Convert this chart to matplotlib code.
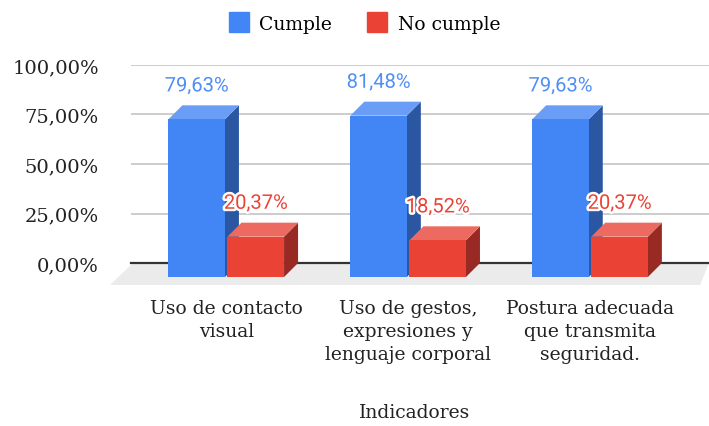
import matplotlib.pyplot as plt
from matplotlib.patches import Polygon, Rectangle
from matplotlib.lines import Line2D
import matplotlib.patheffects as pe

# datos del grafico
categorias = ["Uso de contacto\nvisual",
              "Uso de gestos,\nexpresiones y\nlenguaje corporal",
              "Postura adecuada\nque transmita\nseguridad."]
cumple = [79.63, 81.48, 79.63]
no_cumple = [20.37, 18.52, 20.37]
series = ["Cumple", "No cumple"]
yticks = [0, 25, 50, 75, 100]

# colores: frente, tapa, lateral
colores = {
    "Cumple": ("#4285f4", "#6a9ef6", "#2b56a2"),
    "No cumple": ("#ea4335", "#ec6a5f", "#992a23"),
}
color_texto = {"Cumple": "#4f8ef5", "No cumple": "#ea4335"}

serif = "DejaVu Serif"
W, H = 709, 427

fig = plt.figure(figsize=(W / 100, H / 100), dpi=100)
ax = fig.add_axes([131 / W, (H - 264) / H, 1 - 131 / W, (264 - 66) / H])
ax.set_xlim(-0.5234, 2.654)
ax.set_ylim(0, 100)

# profundidad del efecto 3d (en unidades de datos)
dx = 14 / 181.9
dy = 14 / 1.98
ancho = 0.311
sep = 0.007

# piso gris
piso = Polygon([(-0.512, 0), (2.654, 0), (2.605, -11.1), (-0.639, -11.1)],
               closed=True, facecolor="#ebebeb", edgecolor="none",
               clip_on=False, zorder=1)
ax.add_patch(piso)

ax.set_yticks(yticks)
ax.set_yticklabels([f"{t:.2f}".replace(".", ",") + "%" for t in yticks],
                   fontfamily=serif, fontsize=14, color="#222222")
ax.grid(axis="y", color="#cccccc", lw=1.4, zorder=0)
ax.set_axisbelow(True)
ax.axhline(0, color="#333333", lw=1.6, zorder=2, clip_on=False)
for s in ax.spines.values():
    s.set_visible(False)
ax.tick_params(axis="y", length=0, pad=23)
ax.tick_params(axis="x", length=0, pad=26)

ax.set_xticks(range(len(categorias)))
ax.set_xticklabels(categorias, fontfamily=serif, fontsize=13.5,
                   color="#222222", linespacing=1.36)


def barra3d(x0, v, nombre):
    frente, tapa, lado = colores[nombre]
    x1 = x0 + ancho
    y0 = -dy
    y1 = v - dy
    ax.add_patch(Polygon([(x1, y0), (x1 + dx, y0 + dy), (x1 + dx, y1 + dy), (x1, y1)],
                         facecolor=lado, edgecolor="none", clip_on=False, zorder=3))
    ax.add_patch(Polygon([(x0, y1), (x1, y1), (x1 + dx, y1 + dy), (x0 + dx, y1 + dy)],
                         facecolor=tapa, edgecolor="none", clip_on=False, zorder=3))
    ax.add_patch(Rectangle((x0, y0), ancho, v, facecolor=frente,
                           edgecolor="none", clip_on=False, zorder=3))
    ax.text(x0 + ancho / 2, v + 9.8, f"{v:.2f}".replace(".", ",") + "%",
            ha="center", va="center", fontfamily="Roboto", fontsize=14.5,
            color=color_texto[nombre], zorder=5,
            path_effects=[pe.withStroke(linewidth=3.5, foreground="white")])


for i in range(len(categorias)):
    barra3d(i - sep - ancho, cumple[i], "Cumple")
    barra3d(i + sep, no_cumple[i], "No cumple")

fig.text(415 / W, 1 - 413 / H, "Indicadores", ha="center", va="center",
         fontfamily=serif, fontsize=13.5, color="#222222")

handles = [Line2D([], [], marker="s", ls="none", markersize=15,
                  markerfacecolor=colores[n][0], markeredgecolor=colores[n][0])
           for n in series]
fig.legend(handles, series, loc="center", bbox_to_anchor=(364 / W, 1 - 25 / H),
           ncol=2, frameon=False, prop={"family": serif, "size": 13.5},
           handletextpad=0.5, columnspacing=1.8, handlelength=1.2)

fig.savefig("out.png", dpi=100)
